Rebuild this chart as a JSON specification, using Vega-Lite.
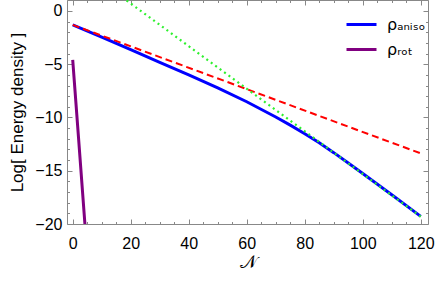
{
  "$schema": "https://vega.github.io/schema/vega-lite/v6.json",
  "width": 361,
  "height": 224,
  "autosize": "none",
  "padding": {"left": 67, "top": 0, "right": 8, "bottom": 57},
  "background": "white",
  "config": {
    "view": {"stroke": "#888", "strokeWidth": 1},
    "font": "Liberation Sans",
    "axis": {
      "grid": false,
      "domainColor": "#888",
      "tickColor": "#888",
      "labelColor": "#000",
      "labelFont": "Liberation Sans",
      "labelFontSize": 16,
      "titleFont": "Liberation Sans",
      "titleFontWeight": "normal",
      "titleColor": "#000"
    },
    "legend": {"padding": 0}
  },
  "datasets": {
    "main": [
      {"series": "ρₐₙᵢₛₒ", "x": 0, "y": -1.31},
      {"series": "ρₐₙᵢₛₒ", "x": 10, "y": -2.45},
      {"series": "ρₐₙᵢₛₒ", "x": 20, "y": -3.64},
      {"series": "ρₐₙᵢₛₒ", "x": 30, "y": -4.82},
      {"series": "ρₐₙᵢₛₒ", "x": 40, "y": -6.0},
      {"series": "ρₐₙᵢₛₒ", "x": 50, "y": -7.22},
      {"series": "ρₐₙᵢₛₒ", "x": 60, "y": -8.52},
      {"series": "ρₐₙᵢₛₒ", "x": 70, "y": -9.95},
      {"series": "ρₐₙᵢₛₒ", "x": 75, "y": -10.72},
      {"series": "ρₐₙᵢₛₒ", "x": 80, "y": -11.52},
      {"series": "ρₐₙᵢₛₒ", "x": 85, "y": -12.38},
      {"series": "ρₐₙᵢₛₒ", "x": 90, "y": -13.3},
      {"series": "ρₐₙᵢₛₒ", "x": 95, "y": -14.27},
      {"series": "ρₐₙᵢₛₒ", "x": 100, "y": -15.26},
      {"series": "ρₐₙᵢₛₒ", "x": 110, "y": -17.26},
      {"series": "ρₐₙᵢₛₒ", "x": 120, "y": -19.28},
      {"series": "ρᵣₒₜ", "x": 0, "y": -4.6},
      {"series": "ρᵣₒₜ", "x": 2, "y": -11.9},
      {"series": "ρᵣₒₜ", "x": 4.4, "y": -20.7}
    ],
    "red": [
      {"x": 0, "y": -1.31},
      {"x": 120, "y": -13.37}
    ],
    "green": [
      {"x": 14, "y": 1.9},
      {"x": 120, "y": -19.3}
    ]
  },
  "layer": [
    {
      "data": {"name": "main"},
      "mark": {"type": "line", "strokeWidth": 3, "clip": true},
      "encoding": {
        "x": {"field": "x", "type": "quantitative", "scale": {"domain": [-1.97, 122.5], "nice": false, "zero": false},
          "axis": {"orient": "top", "values": [0,5,10,15,20,25,30,35,40,45,50,55,60,65,70,75,80,85,90,95,100,105,110,115,120], "labels": false, "title": null, "domain": false,
            "tickSize": {"condition": {"test": "datum.value % 20 === 0", "value": -5}, "value": -2.5}}},
        "y": {"field": "y", "type": "quantitative", "scale": {"domain": [-20, 1.03], "nice": false, "zero": false},
          "axis": {"orient": "right", "values": [-20,-19,-18,-17,-16,-15,-14,-13,-12,-11,-10,-9,-8,-7,-6,-5,-4,-3,-2,-1,0,1], "labels": false, "title": null, "domain": false,
            "tickSize": {"condition": {"test": "datum.value % 5 === 0", "value": -5}, "value": -2.5}}},
        "color": {"field": "series", "type": "nominal",
          "scale": {"domain": ["ρₐₙᵢₛₒ", "ρᵣₒₜ"], "range": ["#0000ff", "#800080"]},
          "legend": {"title": null, "orient": "none", "legendX": 278, "legendY": 8, "symbolType": "stroke", "symbolSize": 900, "symbolStrokeWidth": 3, "labelFont": "DejaVu Sans", "labelFontSize": 16, "labelColor": "#000", "rowPadding": -4, "labelOffset": 9}}
      }
    },
    {
      "data": {"name": "red"},
      "mark": {"type": "line", "color": "#ff0000", "strokeWidth": 2, "strokeDash": [7, 4], "clip": true},
      "encoding": {
        "x": {"field": "x", "type": "quantitative", "scale": {"domain": [-1.97, 122.5], "nice": false, "zero": false},
          "axis": {"orient": "bottom", "values": [0,5,10,15,20,25,30,35,40,45,50,55,60,65,70,75,80,85,90,95,100,105,110,115,120],
            "labelExpr": "datum.value % 20 === 0 ? datum.label : ''", "title": "𝒩", "titleFontSize": 18, "titlePadding": 2, "domain": false,
            "tickSize": {"condition": {"test": "datum.value % 20 === 0", "value": -5}, "value": -2.5}, "labelPadding": 16}},
        "y": {"field": "y", "type": "quantitative", "scale": {"domain": [-20, 1.03], "nice": false, "zero": false},
          "axis": {"orient": "left", "values": [-20,-19,-18,-17,-16,-15,-14,-13,-12,-11,-10,-9,-8,-7,-6,-5,-4,-3,-2,-1,0,1],
            "labelExpr": "datum.value % 5 === 0 ? datum.label : ''", "title": "Log[ Energy density ]", "titleFontSize": 17, "titlePadding": 8, "domain": false,
            "tickSize": {"condition": {"test": "datum.value % 5 === 0", "value": -5}, "value": -2.5}, "labelPadding": 10}}
      }
    },
    {
      "data": {"name": "green"},
      "mark": {"type": "line", "color": "#2ef02e", "strokeWidth": 2.2, "strokeDash": [2, 3.5], "clip": true},
      "encoding": {
        "x": {"field": "x", "type": "quantitative", "axis": null},
        "y": {"field": "y", "type": "quantitative", "axis": null}
      }
    }
  ],
  "resolve": {"axis": {"x": "independent", "y": "independent"}}
}
